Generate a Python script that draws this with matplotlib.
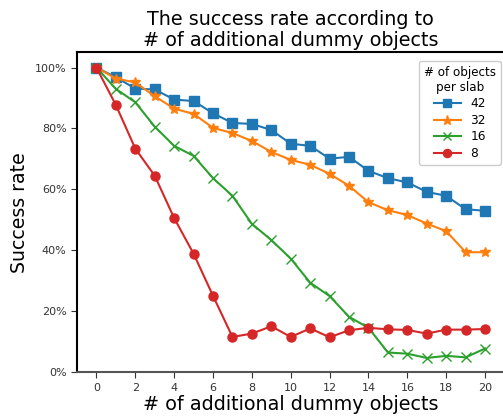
import matplotlib
matplotlib.use("Agg")
import matplotlib.pyplot as plt
from matplotlib.ticker import PercentFormatter

x_vals = list(range(21))
rate_42 = [100, 96.8, 93.1, 92.8, 89.5, 89.0, 85.0, 81.8, 81.5, 79.5, 75.0, 74.3, 70.1, 70.7, 66.1, 63.7, 62.3, 59.2, 57.9, 53.5, 53.0]
rate_32 = [100, 96.4, 95.1, 90.6, 86.5, 84.8, 80.2, 78.5, 75.9, 72.3, 69.7, 68.1, 65.1, 61.2, 55.8, 53.2, 51.6, 48.8, 46.3, 39.4, 39.4]
rate_16 = [100, 93.0, 88.6, 80.6, 74.3, 71.0, 63.7, 57.9, 48.7, 43.4, 37.3, 29.4, 25.0, 18.2, 14.6, 6.5, 6.1, 4.7, 5.4, 4.9, 7.8]
rate_8 = [100, 87.7, 73.4, 64.5, 50.6, 38.9, 25.1, 11.6, 12.7, 15.1, 11.6, 14.4, 11.5, 13.8, 14.6, 14.1, 13.9, 12.7, 14.0, 14.0, 14.2]
series_labels = ["42", "32", "16", "8"]
x_ticks = list(range(0, 21, 2))

fig = plt.figure(figsize=(5.03, 4.18), dpi=100)
W, H = 503, 418
left, right, top, bottom = 77, 504.5, 52.3, 372.3
ax = fig.add_axes([left / W, 1 - bottom / H, (right - left) / W, (bottom - top) / H])

ax.plot(x_vals, rate_42, color="#1f77b4", marker="s", markersize=6.5, lw=1.5, label=series_labels[0])
ax.plot(x_vals, rate_32, color="#ff7f0e", marker="*", markersize=7.5, lw=1.5, label=series_labels[1])
ax.plot(x_vals, rate_16, color="#2ca02c", marker="x", markersize=7, lw=1.5, label=series_labels[2])
ax.plot(x_vals, rate_8, color="#d62728", marker="o", markersize=6.5, lw=1.5, label=series_labels[3])

ax.set_xlim(-1, 21)
ax.set_ylim(0, 105)
ax.set_xticks(x_ticks)
ax.set_yticks([0, 20, 40, 60, 80, 100])
ax.yaxis.set_major_formatter(PercentFormatter(decimals=0))
ax.tick_params(axis="both", labelsize=8, colors="#333333", length=4)
ax.spines["left"].set_linewidth(1.5)
ax.spines["top"].set_linewidth(1.5)
ax.spines["bottom"].set_color("#555555")
ax.spines["bottom"].set_linewidth(1.5)

ax.set_title("The success rate according to\n# of additional dummy objects", fontsize=13.8, linespacing=1.13, pad=4.5)
ax.set_xlabel("# of additional dummy objects", fontsize=13.8, labelpad=2)
ax.set_ylabel("Success rate", fontsize=13.6, labelpad=4)

leg = ax.legend(title="# of objects\nper slab", loc="upper right", fontsize=8.7, title_fontsize=8.6,
                bbox_to_anchor=((500.7 - left) / (right - left), 1 - (60.7 - top) / (bottom - top)),
                borderaxespad=0.0, handlelength=2.2, labelspacing=0.3, framealpha=1.0,
                markerscale=0.9)
leg.get_title().set_multialignment("center")

fig.savefig("out.png", dpi=100)
